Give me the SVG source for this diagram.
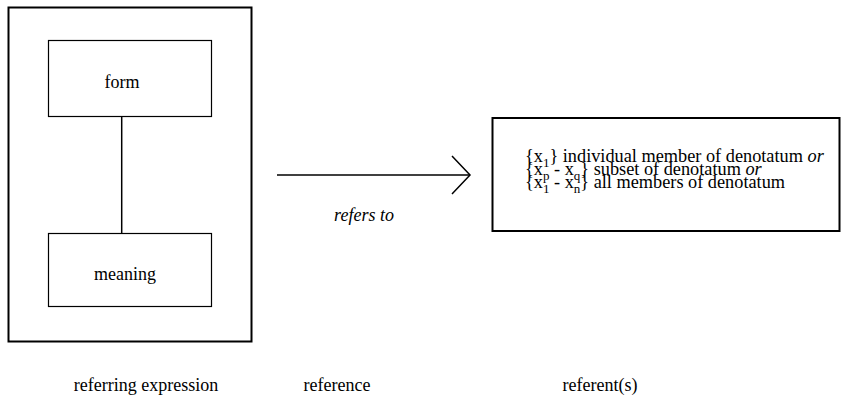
<svg xmlns="http://www.w3.org/2000/svg" width="848" height="403" viewBox="0 0 848 403">
  <style>
    .box { fill: none; stroke: #000; }
    .frame { stroke-width: 2; }
    .thin { stroke-width: 1.2; }
    .line { fill: none; stroke: #000; stroke-width: 1.5; }
    .mid { text-anchor: middle; }
    .it { font-style: italic; }
    .sub { font-size: 13px; }
  </style>
  <rect width="848" height="403" fill="#fff"/>

  <g font-family="'Liberation Serif', 'DejaVu Serif', serif" font-size="18" fill="#000">
    <g id="referring-expression">
      <rect class="box frame" x="8.5" y="7.5" width="243" height="334"/>
    </g>

    <g id="form">
      <rect class="box thin" x="48.5" y="40.5" width="163" height="76"/>
      <text class="mid" x="122" y="88">form</text>
    </g>

    <g id="meaning">
      <rect class="box thin" x="48.5" y="233.5" width="163" height="73"/>
      <text class="mid" x="125" y="280">meaning</text>
    </g>

    <g id="referent">
      <rect class="box frame" x="492.5" y="118" width="347" height="113"/>
      <text x="525" y="162" font-size="18.3">{x<tspan class="sub" dy="5">1</tspan><tspan dy="-5">} individual member of denotatum </tspan><tspan class="it">or</tspan></text>
      <text x="525" y="175" font-size="18.3">{x<tspan class="sub" dy="5">p</tspan><tspan dy="-5"> - x</tspan><tspan class="sub" dy="5">q</tspan><tspan dy="-5">} subset of denotatum </tspan><tspan class="it">or</tspan></text>
      <text x="525" y="188" font-size="18.3">{x<tspan class="sub" dy="5">1</tspan><tspan dy="-5"> - x</tspan><tspan class="sub" dy="5">n</tspan><tspan dy="-5">} all members of denotatum</tspan></text>
    </g>

    <g id="connectors">
      <line class="line" x1="121.7" y1="116.5" x2="121.7" y2="233.5"/>
      <line class="line" x1="277" y1="175" x2="470" y2="175"/>
      <polyline class="line" points="452,156 470,175 452,194"/>
      <text class="mid it" x="364" y="221">refers to</text>
    </g>

    <g id="labels">
      <text class="mid" x="146" y="391">referring expression</text>
      <text class="mid" x="337" y="391">reference</text>
      <text class="mid" x="600" y="391">referent(s)</text>
    </g>
  </g>
</svg>
